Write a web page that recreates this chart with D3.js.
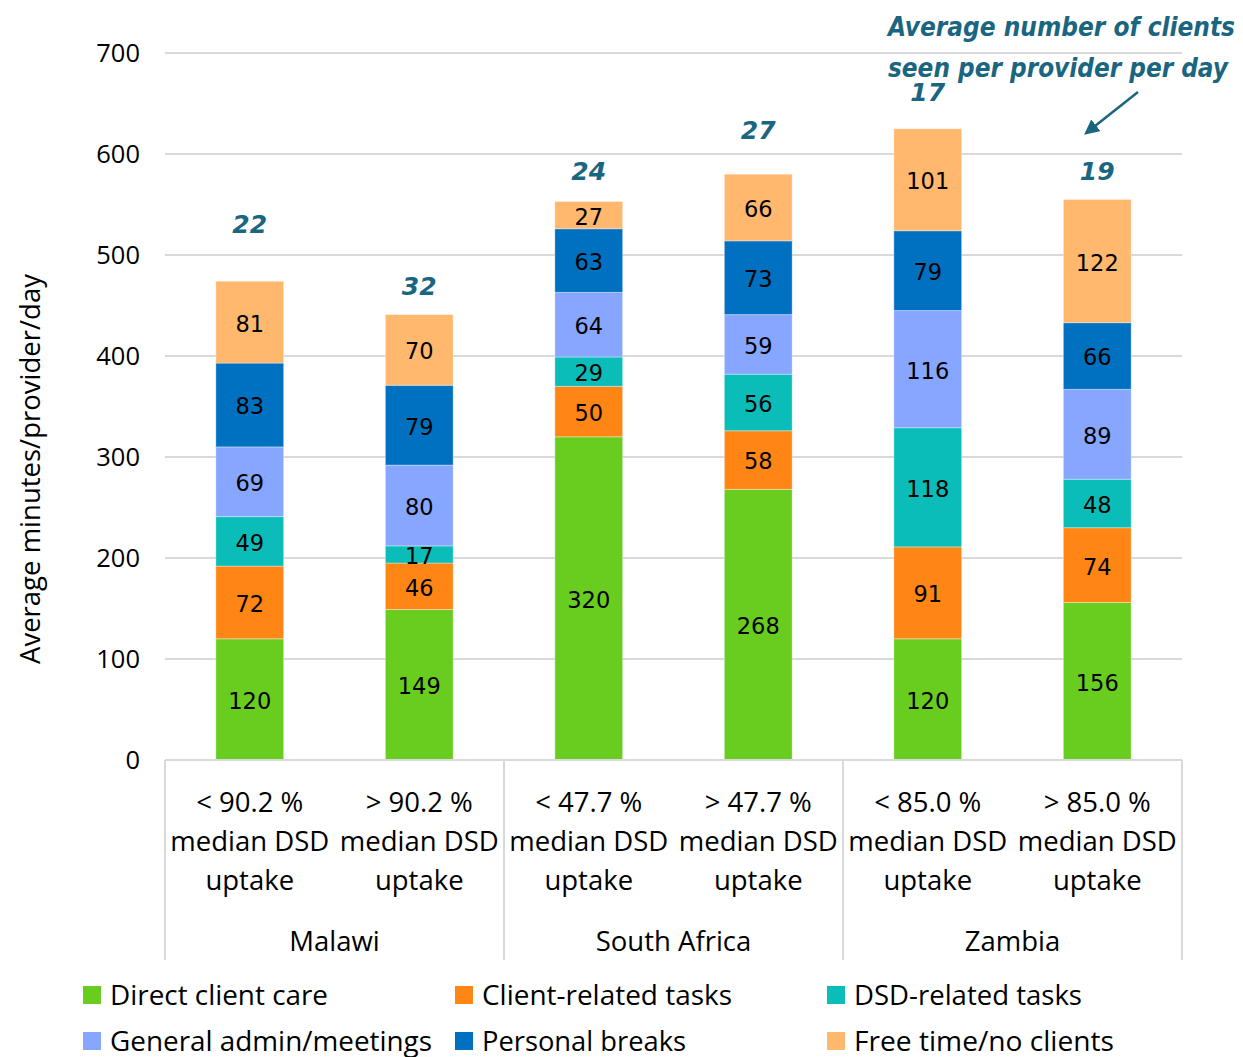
<!DOCTYPE html>
<html>
<head>
<meta charset="utf-8">
<script src="https://cdn.jsdelivr.net/npm/d3@7"></script>
<style>
  html, body { margin: 0; padding: 0; background: #fff; }
  svg { display: block; }
</style>
</head>
<body>
<svg id="chart" width="1243" height="1057"></svg>
<script>
// Stacked activity time per provider, split by DSD uptake within each country
const countries = ["Malawi", "South Africa", "Zambia"];
const groupLabels = [
  ["< 90.2 %", "median DSD", "uptake"],
  ["> 90.2 %", "median DSD", "uptake"],
  ["< 47.7 %", "median DSD", "uptake"],
  ["> 47.7 %", "median DSD", "uptake"],
  ["< 85.0 %", "median DSD", "uptake"],
  ["> 85.0 %", "median DSD", "uptake"]
];
const groupCountry = ["Malawi", "Malawi", "South Africa", "South Africa", "Zambia", "Zambia"];
const activities = ["Direct client care", "Client-related tasks", "DSD-related tasks",
                    "General admin/meetings", "Personal breaks", "Free time/no clients"];

const directCare     = [120, 149, 320, 268, 120, 156];
const clientTasks    = [72, 46, 50, 58, 91, 74];
const dsdTasks       = [49, 17, 29, 56, 118, 48];
const adminMeetings  = [69, 80, 64, 59, 116, 89];
const personalBreaks = [83, 79, 63, 73, 79, 66];
const freeTime       = [81, 70, 27, 66, 101, 122];

const clientsPerDay  = [22, 32, 24, 27, 17, 19];
const yTicks = [0, 100, 200, 300, 400, 500, 600, 700];

// where each clients-per-day figure sits, in minutes on the value axis
const clientLabelLevel = [531, 469, 583, 624, 661, 583];

const colors = ["#69CD1F", "#FF8514", "#0ABDB8", "#87A6FF", "#0070C0", "#FFB86E"];

const seriesValues = [directCare, clientTasks, dsdTasks, adminMeetings, personalBreaks, freeTime];
const rows = groupLabels.map((g, i) => {
  const r = { idx: i };
  activities.forEach((a, k) => { r[a] = seriesValues[k][i]; });
  return r;
});

const svg = d3.select("#chart");
const plot = { left: 165, right: 1182, top: 53, bottom: 760 };

const x = d3.scaleBand()
  .domain(d3.range(groupLabels.length))
  .range([plot.left, plot.right])
  .paddingInner(0.6)
  .paddingOuter(0.3);

const y = d3.scaleLinear().domain([0, 700]).range([plot.bottom, plot.top]);

// gridlines
svg.append("g")
  .selectAll("line")
  .data(yTicks.filter(t => t > 0))
  .join("line")
  .attr("x1", plot.left).attr("x2", plot.right)
  .attr("y1", d => y(d)).attr("y2", d => y(d))
  .attr("stroke", "#d9d9d9").attr("stroke-width", 2);

// value axis labels
const yAxis = svg.append("g")
  .attr("transform", `translate(${plot.left},0)`)
  .call(d3.axisLeft(y).tickValues(yTicks).tickSize(0).tickPadding(25));
yAxis.select(".domain").remove();
yAxis.selectAll("text")
  .attr("font-family", "Open Sans, sans-serif")
  .attr("font-size", 25.5)
  .attr("fill", "#000");

svg.append("text")
  .attr("transform", `translate(40, ${469}) rotate(-90)`)
  .attr("text-anchor", "middle")
  .attr("font-family", "Open Sans, sans-serif")
  .attr("font-size", 27.5)
  .attr("fill", "#000")
  .text("Average minutes/provider/day");

// stacked bars
const stacked = d3.stack().keys(activities)(rows);
const layers = svg.append("g").selectAll("g")
  .data(stacked)
  .join("g")
  .attr("fill", (d, i) => colors[i]);

layers.selectAll("rect")
  .data(d => d.map(p => ({ p, key: d.key })))
  .join("rect")
  .attr("x", d => x(d.p.data.idx))
  .attr("width", x.bandwidth())
  .attr("y", d => y(d.p[1]))
  .attr("height", d => y(d.p[0]) - y(d.p[1]))
  .attr("stroke", "rgba(255,255,255,0.35)")
  .attr("stroke-width", 1);

layers.selectAll("text")
  .data(d => d.map(p => ({ p, key: d.key })))
  .join("text")
  .attr("x", d => x(d.p.data.idx) + x.bandwidth() / 2)
  .attr("y", d => (y(d.p[0]) + y(d.p[1])) / 2)
  .attr("dy", "0.42em")
  .attr("text-anchor", "middle")
  .attr("font-family", "DejaVu Sans, Verdana, sans-serif")
  .attr("font-size", 22.5)
  .attr("fill", "#000")
  .text(d => d.p.data[d.key]);

// clients seen per provider per day
const teal = "#1A6580";
svg.append("g").selectAll("text")
  .data(clientsPerDay)
  .join("text")
  .attr("x", (d, i) => x(i) + x.bandwidth() / 2)
  .attr("y", (d, i) => y(clientLabelLevel[i]))
  .attr("dy", "0.36em")
  .attr("text-anchor", "middle")
  .attr("font-family", "DejaVu Sans, Verdana, sans-serif")
  .attr("font-weight", "bold")
  .attr("font-style", "italic")
  .attr("font-size", 25)
  .attr("fill", teal)
  .text(d => d);

const note = svg.append("text")
  .attr("font-family", "DejaVu Sans, Verdana, sans-serif")
  .attr("font-weight", "bold")
  .attr("font-style", "italic")
  .attr("font-size", 26)
  .attr("fill", teal)
  .attr("lengthAdjust", "spacingAndGlyphs");
note.append("tspan").attr("x", 888).attr("y", 36)
  .attr("textLength", 347).attr("lengthAdjust", "spacingAndGlyphs")
  .text("Average number of clients");
note.append("tspan").attr("x", 888).attr("y", 77)
  .attr("textLength", 340).attr("lengthAdjust", "spacingAndGlyphs")
  .text("seen per provider per day");

svg.append("defs").append("marker")
  .attr("id", "arrowhead")
  .attr("viewBox", "0 0 10 10")
  .attr("refX", 5).attr("refY", 5)
  .attr("markerWidth", 6).attr("markerHeight", 6)
  .attr("orient", "auto")
  .append("path")
  .attr("d", "M0,0 L10,5 L0,10 Z")
  .attr("fill", teal);

svg.append("line")
  .attr("x1", 1138).attr("y1", 92)
  .attr("x2", 1090).attr("y2", 130)
  .attr("stroke", teal).attr("stroke-width", 2.5)
  .attr("marker-end", "url(#arrowhead)");

// category axis: baseline, group dividers, labels
const axisCol = "#d9d9d9";
svg.append("line")
  .attr("x1", plot.left).attr("x2", plot.right)
  .attr("y1", plot.bottom).attr("y2", plot.bottom)
  .attr("stroke", axisCol).attr("stroke-width", 2);

const step = x.step();
const dividers = d3.range(countries.length + 1).map(k => plot.left + k * 2 * step);
svg.append("g").selectAll("line")
  .data(dividers)
  .join("line")
  .attr("x1", d => d).attr("x2", d => d)
  .attr("y1", plot.bottom).attr("y2", 960)
  .attr("stroke", axisCol).attr("stroke-width", 2);

const catText = svg.append("g").selectAll("text")
  .data(groupLabels)
  .join("text")
  .attr("text-anchor", "middle")
  .attr("font-family", "Open Sans, sans-serif")
  .attr("font-size", 27.5)
  .attr("fill", "#000");
catText.each(function (lines, i) {
  const t = d3.select(this);
  lines.forEach((ln, j) => {
    t.append("tspan")
      .attr("x", x(i) + x.bandwidth() / 2)
      .attr("y", 812 + j * 39)
      .text(ln);
  });
});

svg.append("g").selectAll("text")
  .data(countries)
  .join("text")
  .attr("x", (d, k) => plot.left + (2 * k + 1) * step)
  .attr("y", 951)
  .attr("text-anchor", "middle")
  .attr("font-family", "Open Sans, sans-serif")
  .attr("font-size", 27.5)
  .attr("fill", "#000")
  .text(d => d);

// legend
const legendCols = [83, 455, 827];
const legendRows = [995, 1041];
const legendWidths = [218, 250, 228, 322, 204, 260];
const legend = svg.append("g").selectAll("g")
  .data(activities)
  .join("g")
  .attr("transform", (d, i) => `translate(${legendCols[i % 3]},${legendRows[Math.floor(i / 3)]})`);
legend.append("rect")
  .attr("x", 0).attr("y", -9)
  .attr("width", 18).attr("height", 18)
  .attr("fill", (d, i) => colors[i]);
legend.append("text")
  .attr("x", 27).attr("y", 0)
  .attr("dy", "0.36em")
  .attr("font-family", "Open Sans, sans-serif")
  .attr("font-size", 27)
  .attr("fill", "#000")
  .attr("textLength", (d, i) => legendWidths[i])
  .attr("lengthAdjust", "spacingAndGlyphs")
  .text(d => d);
</script>
</body>
</html>
